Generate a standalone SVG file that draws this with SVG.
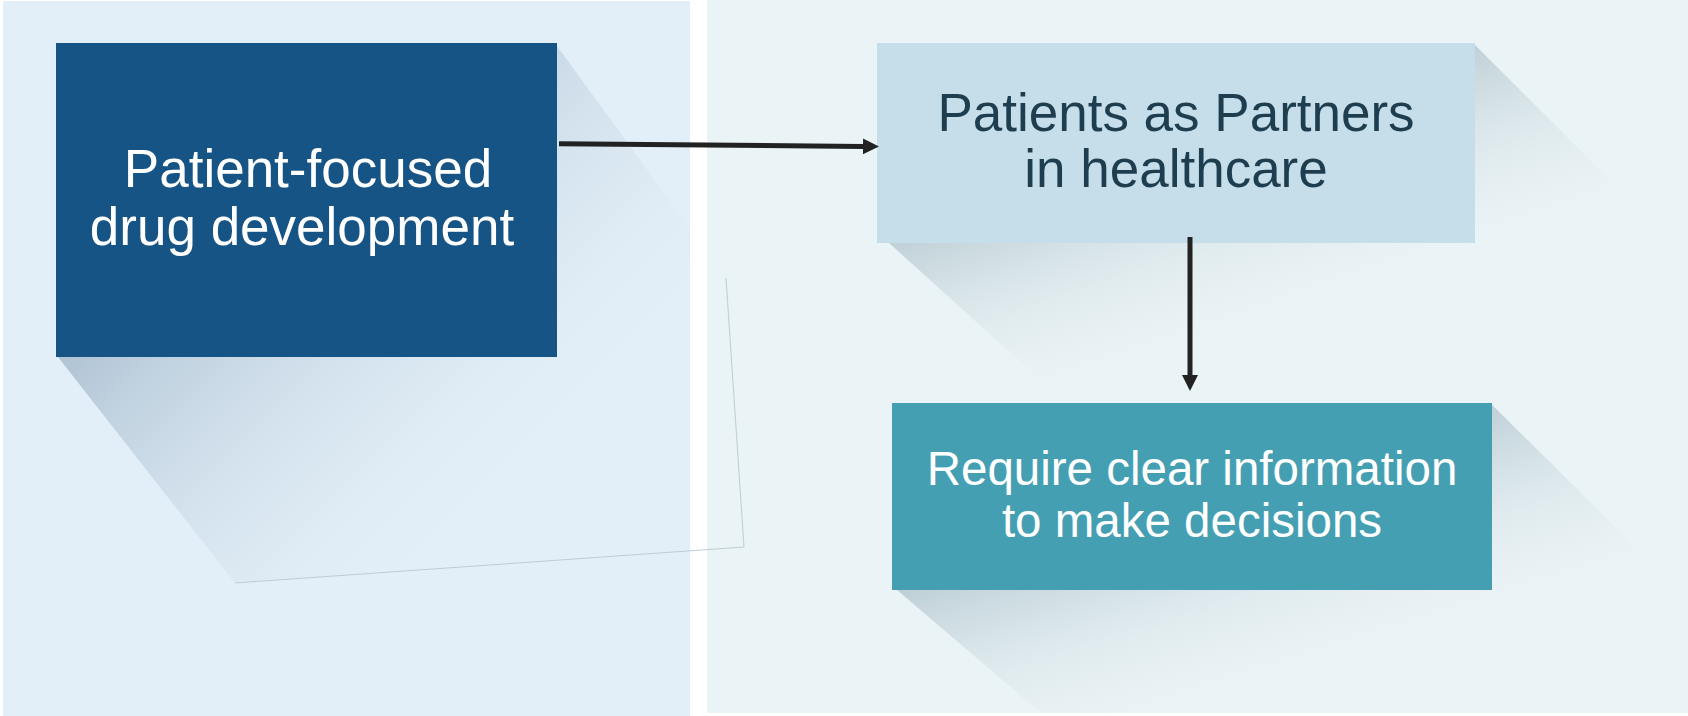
<svg xmlns="http://www.w3.org/2000/svg" width="1688" height="716" viewBox="0 0 1688 716">
<style>
.lbl{font-family:"Liberation Sans",Arial,sans-serif;text-anchor:middle}
.conn{stroke:#222222;stroke-width:5;fill:none}
</style>
<defs>
<marker id="ah" markerUnits="userSpaceOnUse" markerWidth="16" markerHeight="16" viewBox="0 0 16 16" refX="0" refY="8" orient="auto">
<path d="M0,0 L16,8 L0,16 z" fill="#222222"/>
</marker>
<clipPath id="clipL"><rect x="3" y="1" width="687" height="715"/></clipPath>
<linearGradient id="sh1" gradientUnits="userSpaceOnUse" x1="180" y1="180" x2="520" y2="520">
<stop offset="0" stop-color="#A6BBCD" stop-opacity="1"/>
<stop offset="1" stop-color="#E3EFF8" stop-opacity="0"/>
</linearGradient>
<linearGradient id="sh2" gradientUnits="userSpaceOnUse" x1="1182" y1="144" x2="1248" y2="340">
<stop offset="0" stop-color="#BFD0D6" stop-opacity="1"/>
<stop offset="1" stop-color="#EAF3F6" stop-opacity="0"/>
</linearGradient>
<linearGradient id="sh3" gradientUnits="userSpaceOnUse" x1="1194" y1="497" x2="1258" y2="700">
<stop offset="0" stop-color="#BDCFD6" stop-opacity="1"/>
<stop offset="1" stop-color="#EAF3F6" stop-opacity="0"/>
</linearGradient>
</defs>
<rect x="0" y="0" width="1688" height="716" fill="#FFFFFF"/>
<g id="panel-left">
<rect x="3" y="1" width="687" height="715" fill="#E3EFF8"/>
</g>
<g id="panel-right">
<rect x="707" y="0" width="981" height="713" fill="#EAF3F6"/>
</g>
<g id="shadows">
<polygon points="557,46 726,278 744,547 235,583 58,357" fill="url(#sh1)" clip-path="url(#clipL)"/>
<polyline points="726,278 744,547 235,583" fill="none" stroke="#B8C8D4" stroke-width="0.9"/>
<polygon points="1475,45 1720,290 1720,393 1055,393 889,243" fill="url(#sh2)"/>
<polygon points="1492,405 1730,640 1730,713 1041,713 897,590" fill="url(#sh3)"/>
</g>
<g id="node-patient-focused">
<rect x="56" y="43" width="501" height="314" fill="#175486"/>
<text class="lbl" x="308" y="187" font-size="53" fill="#FFFFFF">Patient-focused</text>
<text class="lbl" x="302" y="245" font-size="53" fill="#FFFFFF">drug development</text>
</g>
<g id="node-partners">
<rect x="877" y="43" width="598" height="200" fill="#C5DEEA"/>
<text class="lbl" x="1176" y="131" font-size="53" fill="#1E3E4F">Patients as Partners</text>
<text class="lbl" x="1176" y="187" font-size="53" fill="#1E3E4F">in healthcare</text>
</g>
<g id="node-information">
<rect x="892" y="403" width="600" height="187" fill="#459FB3"/>
<text class="lbl" x="1192" y="485" font-size="47.5" fill="#FFFFFF">Require clear information</text>
<text class="lbl" x="1192" y="537" font-size="47.5" fill="#FFFFFF">to make decisions</text>
</g>
<g id="connectors">
<path class="conn" d="M559,143.7 L863,146.4" marker-end="url(#ah)"/>
<path class="conn" d="M1190,237 L1190,375" marker-end="url(#ah)"/>
</g>
</svg>
